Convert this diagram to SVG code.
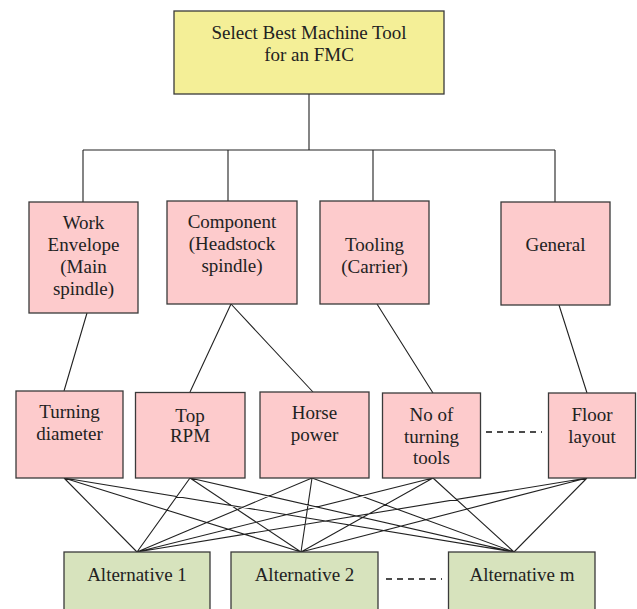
<svg xmlns="http://www.w3.org/2000/svg" width="637" height="609" viewBox="0 0 637 609">
  <style>
    .box { stroke: #3a3a3a; stroke-width: 1.3; }
    .goal { fill: #f4ef97; }
    .crit { fill: #fdcbcc; }
    .alt { fill: #d7e3bd; }
    .lbl { font-family: "Liberation Serif", "Times New Roman", serif; font-size: 19px; fill: #222; text-anchor: middle; }
    .link { stroke: #222; stroke-width: 1.1; fill: none; }
    .dash { stroke: #111; stroke-width: 1.4; stroke-dasharray: 6 5; fill: none; }
  </style>
  <rect width="637" height="609" fill="#ffffff"/>

  <!-- connectors -->
  <g id="connectors">
    <!-- goal to criteria -->
    <path class="link" d="M309,94 V150 M83,150 H555 M83,150 V202 M228,150 V201 M373,150 V201 M555,150 V202"/>
    <!-- criteria to sub-criteria -->
    <path class="link" d="M87,313 L64,391 M231,304 L190,392 M231,304 L313,392 M377,304 L433,393 M559,305 L587,393"/>
    <!-- sub-criteria to alternatives -->
    <path class="link" d="M64,478 L137,552 M64,478 L301,552 M64,478 L514,552
                          M190,478 L137,552 M190,478 L301,552 M190,478 L514,552
                          M312,478 L137,552 M312,478 L301,552 M312,478 L514,552
                          M433,478 L137,552 M433,478 L301,552 M433,478 L514,552
                          M587,478 L137,552 M587,478 L301,552 M587,478 L514,552"/>
    <!-- ellipsis links -->
    <path class="dash" d="M486,432 H542"/>
    <path class="dash" d="M386,579 H442"/>
  </g>

  <!-- goal -->
  <g id="goal">
    <rect class="box goal" x="174" y="11" width="270" height="83"/>
    <text class="lbl" x="309" y="39">Select Best Machine Tool</text>
    <text class="lbl" x="309" y="61">for an FMC</text>
  </g>

  <!-- criteria -->
  <g id="work-envelope">
    <rect class="box crit" x="29" y="202" width="109" height="111"/>
    <text class="lbl" x="83.5" y="229">Work</text>
    <text class="lbl" x="83.5" y="251">Envelope</text>
    <text class="lbl" x="83.5" y="273">(Main</text>
    <text class="lbl" x="83.5" y="295">spindle)</text>
  </g>
  <g id="component">
    <rect class="box crit" x="167" y="201" width="130" height="103"/>
    <text class="lbl" x="232" y="228">Component</text>
    <text class="lbl" x="232" y="250">(Headstock</text>
    <text class="lbl" x="232" y="272">spindle)</text>
  </g>
  <g id="tooling">
    <rect class="box crit" x="320" y="201" width="109" height="103"/>
    <text class="lbl" x="374.5" y="251">Tooling</text>
    <text class="lbl" x="374.5" y="273">(Carrier)</text>
  </g>
  <g id="general">
    <rect class="box crit" x="501" y="202" width="109" height="103"/>
    <text class="lbl" x="555.5" y="251">General</text>
  </g>

  <!-- sub-criteria -->
  <g id="turning-diameter">
    <rect class="box crit" x="16" y="391" width="107" height="87"/>
    <text class="lbl" x="69.5" y="418">Turning</text>
    <text class="lbl" x="69.5" y="440">diameter</text>
  </g>
  <g id="top-rpm">
    <rect class="box crit" x="135.5" y="392.5" width="109.5" height="85.5"/>
    <text class="lbl" x="190" y="422">Top</text>
    <text class="lbl" x="190" y="442">RPM</text>
  </g>
  <g id="horse-power">
    <rect class="box crit" x="260" y="392" width="109" height="86"/>
    <text class="lbl" x="314.5" y="419">Horse</text>
    <text class="lbl" x="314.5" y="441">power</text>
  </g>
  <g id="turning-tools">
    <rect class="box crit" x="382.5" y="393" width="98" height="85"/>
    <text class="lbl" x="431.5" y="421">No of</text>
    <text class="lbl" x="431.5" y="443">turning</text>
    <text class="lbl" x="431.5" y="464">tools</text>
  </g>
  <g id="floor-layout">
    <rect class="box crit" x="548.5" y="393" width="87" height="85"/>
    <text class="lbl" x="592" y="421">Floor</text>
    <text class="lbl" x="592" y="443">layout</text>
  </g>

  <!-- alternatives -->
  <g id="alternative-1">
    <rect class="box alt" x="64" y="552" width="146" height="70"/>
    <text class="lbl" x="137" y="581">Alternative 1</text>
  </g>
  <g id="alternative-2">
    <rect class="box alt" x="231" y="552" width="147" height="70"/>
    <text class="lbl" x="304.5" y="581">Alternative 2</text>
  </g>
  <g id="alternative-m">
    <rect class="box alt" x="448.5" y="552" width="146.5" height="70"/>
    <text class="lbl" x="522" y="581">Alternative m</text>
  </g>
</svg>
